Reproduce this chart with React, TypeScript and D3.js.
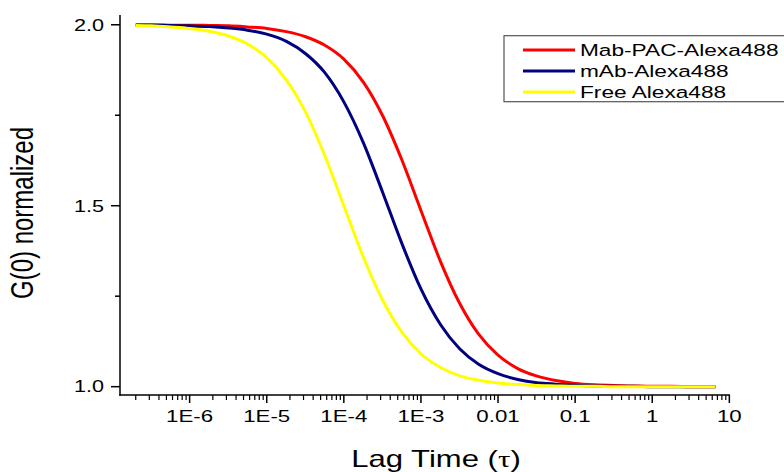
import React from 'react'
import * as d3 from 'd3'

// lag times (s) and the three normalized correlation curves
const tau = [2e-7, 3.2e-7, 5.6e-7, 1e-6, 1.8e-6, 3.2e-6, 5.6e-6, 1e-5, 1.8e-5, 3.2e-5, 5.6e-5,
  1e-4, 1.8e-4, 3.2e-4, 5.6e-4, 1e-3, 1.8e-3, 3.2e-3, 5.6e-3, 1e-2, 1.8e-2, 3.2e-2, 5.6e-2,
  0.1, 0.18, 0.32, 0.56, 1, 1.8, 3.2, 6.6]

const mabPac = [2.0, 2.0, 1.999, 1.999, 1.998, 1.997, 1.994, 1.99, 1.981, 1.967, 1.944,
  1.905, 1.841, 1.748, 1.629, 1.487, 1.345, 1.229, 1.145, 1.087, 1.05, 1.029, 1.017,
  1.009, 1.005, 1.003, 1.002, 1.001, 1.001, 1.0, 1.0]

const mab = [1.999, 1.999, 1.998, 1.997, 1.995, 1.991, 1.985, 1.974, 1.954, 1.92, 1.869,
  1.787, 1.673, 1.536, 1.398, 1.27, 1.171, 1.104, 1.062, 1.036, 1.02, 1.011, 1.007,
  1.004, 1.002, 1.001, 1.001, 1.0, 1.0, 1.0, 1.0]

const freeDye = [1.998, 1.997, 1.994, 1.99, 1.982, 1.969, 1.947, 1.909, 1.847, 1.758, 1.641,
  1.5, 1.357, 1.238, 1.152, 1.091, 1.053, 1.03, 1.018, 1.01, 1.006, 1.003, 1.002,
  1.001, 1.001, 1.0, 1.0, 1.0, 1.0, 1.0, 1.0]

const seriesNames = ['Mab-PAC-Alexa488', 'mAb-Alexa488', 'Free Alexa488']
const seriesColors = ['#ff0000', '#000080', '#ffff00']

const xTicks = [1e-6, 1e-5, 1e-4, 1e-3, 0.01, 0.1, 1, 10]
const xTickLabels = ['1E-6', '1E-5', '1E-4', '1E-3', '0.01', '0.1', '1', '10']
const yTicks = [1.0, 1.5, 2.0]
const yTickLabels = ['1.0', '1.5', '2.0']
const yMinor = [1.25, 1.75]

const W = 784
const H = 472
const font = '"Liberation Sans", Arial, sans-serif'
const sx = 1.35 // the original picture is stretched sideways

export default function App() {
  const x = d3.scaleLog().domain([1.25e-7, 10.2]).range([120, 730])
  const y = d3.scaleLinear().domain([0.977, 2.027]).range([395, 15])

  const line = d3.line<number>()
    .x((_, i) => x(tau[i]))
    .y(d => y(d))
    .curve(d3.curveMonotoneX)

  const allSeries = [mabPac, mab, freeDye]
  const xMinor = x.ticks().filter(t => !xTicks.some(m => Math.abs(m - t) / m < 1e-6))

  return (
    <div style={{ position: 'absolute', left: 0, top: 0 }}>
      <svg width={W} height={H} style={{ display: 'block', background: '#fff' }}>
        {/* curves */}
        {allSeries.map((s, k) => (
          <path key={k} d={line(s) || ''} fill="none" stroke={seriesColors[k]} strokeWidth={3} />
        ))}

        {/* axes */}
        <line x1={120} x2={120} y1={15} y2={395.75} stroke="#000" strokeWidth={1.5} />
        <line x1={119.25} x2={730} y1={395} y2={395} stroke="#000" strokeWidth={1.5} />

        {yTicks.map((t, i) => (
          <g key={'y' + i}>
            <line x1={111} x2={120} y1={y(t)} y2={y(t)} stroke="#000" strokeWidth={1.5} />
            <g transform={`translate(104,${y(t) + 5.8}) scale(${sx},1)`}>
              <text textAnchor="end" fontFamily={font} fontSize={16}>{yTickLabels[i]}</text>
            </g>
          </g>
        ))}
        {yMinor.map((t, i) => (
          <line key={'ym' + i} x1={115} x2={120} y1={y(t)} y2={y(t)} stroke="#000" strokeWidth={1.5} />
        ))}

        {xTicks.map((t, i) => (
          <g key={'x' + i}>
            <line x1={x(t)} x2={x(t)} y1={395} y2={403} stroke="#000" strokeWidth={1.5} />
            <g transform={`translate(${x(t)},422) scale(${sx},1)`}>
              <text textAnchor="middle" fontFamily={font} fontSize={16.5}>{xTickLabels[i]}</text>
            </g>
          </g>
        ))}
        {xMinor.map((t, i) => (
          <line key={'xm' + i} x1={x(t)} x2={x(t)} y1={395} y2={400} stroke="#000" strokeWidth={1.2} />
        ))}

        {/* axis titles */}
        <g transform={`translate(436,467) scale(${sx},1)`}>
          <text textAnchor="middle" fontFamily={font} fontSize={23}>
            Lag Time (<tspan fontFamily='"Liberation Serif", serif'>τ</tspan>)
          </text>
        </g>
        <g transform="translate(33,213) rotate(-90) scale(1,1.3)">
          <text textAnchor="middle" fontFamily={font} fontSize={24}>G(0) normalized</text>
        </g>

        {/* legend */}
        <rect x={504} y={35.7} width={300} height={66} fill="#fff" stroke="#555" strokeWidth={1.2} />
        {seriesNames.map((n, k) => {
          const ly = 50 + k * 21
          return (
            <g key={'l' + k}>
              <line x1={523} x2={575} y1={ly} y2={ly} stroke={seriesColors[k]} strokeWidth={3} />
              <g transform={`translate(580,${ly + 6}) scale(${sx},1)`}>
                <text fontFamily={font} fontSize={16.8}>{n}</text>
              </g>
            </g>
          )
        })}
      </svg>
    </div>
  )
}
